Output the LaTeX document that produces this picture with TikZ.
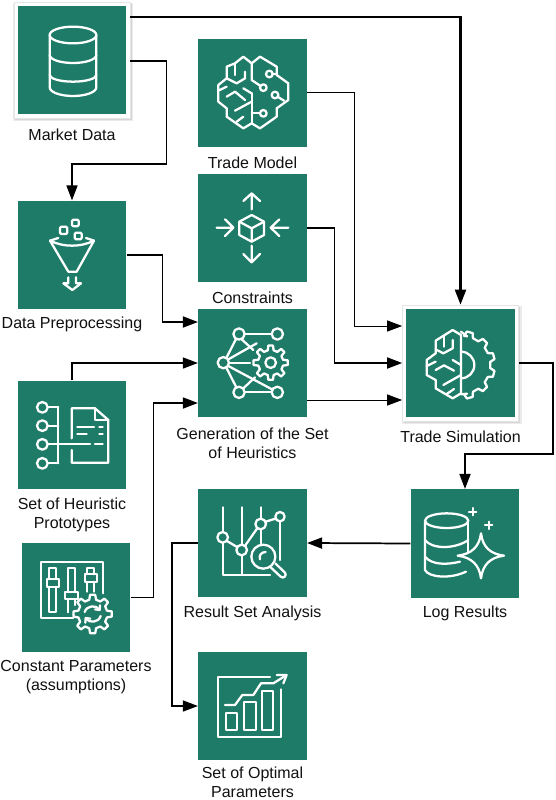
\documentclass[tikz,border=0pt]{standalone}
\usepackage{fontspec}
\setmainfont{Liberation Sans}
\usetikzlibrary{arrows.meta,calc}
\definecolor{tealbg}{HTML}{1E7B67}
\definecolor{labelink}{HTML}{111111}
\newcommand{\gearpath}[6]{% cx cy rout rin step list
  \begin{scope}[shift={(#1,#2)}]
  \draw[icon,fill=tealbg] ({-.3*#5}:#4) \foreach \i in {#6} { -- ({\i*#5-.3*#5}:#4) -- ({\i*#5-.17*#5}:#3) -- ({\i*#5+.17*#5}:#3) -- ({\i*#5+.3*#5}:#4) } -- cycle;
  \end{scope}}
\tikzset{
  tealbox/.style={rectangle,fill=tealbg,draw=none,inner sep=0pt,minimum size=81.5pt},
  framebox/.style={rectangle,fill=white,draw=black!10,line width=.5pt,inner sep=0pt,minimum size=87pt},
  lbl/.style={text=labelink,font=\fontsize{12pt}{14.25pt}\selectfont,align=center,inner sep=0pt},
  icon/.style={draw=white,line width=1.7pt,line join=round,line cap=round},
  zoomed/.style={x=.25pt,y=-.25pt},
  conn/.style={draw=black,-{Triangle[length=11.25pt,width=8.25pt]},line width=#1},
  conn/.default=1.3pt
}
\begin{document}
\begin{tikzpicture}[x=.75pt,y=-.75pt]
\useasboundingbox (0,0) rectangle (556,800);
\fill[white] (0,0) rectangle (556,800);

% framed shadows
\fill[black!8] (13,3) rectangle (133,121);
\fill[black!16] (15,4) rectangle (131.5,119.5);
\fill[black!8] (401.5,306) rectangle (521.5,424);
\fill[black!16] (404,307) rectangle (520,422.5);

% boxes
\node[framebox] (md) at (72,60) {};
\node[tealbox] (mdin) at (md) {};
\node[tealbox] (tm) at (252.5,93) {};
\node[tealbox] (cs) at (252.5,228) {};
\node[tealbox] (dp) at (72,255) {};
\node[tealbox] (gn) at (252.5,363) {};
\node[tealbox] (hp) at (72,435) {};
\node[tealbox] (cp) at (76,597.5) {};
\node[tealbox] (rs) at (252.5,543) {};
\node[tealbox] (op) at (252.5,706) {};
\node[framebox] (sim) at (460.5,363) {};
\node[tealbox] (simin) at (sim) {};
\node[tealbox] (lg) at (465,543.5) {};

% labels
\node[lbl] (lmd) at (72,134.7) {Market Data};
\node[lbl] (ltm) at (252.5,162.7) {Trade Model};
\node[lbl] (lcs) at (252.5,297.7) {Constraints};
\node[lbl] (ldp) at (72,324.7) {Data Preprocessing};
\node[lbl] (lgn) at (252.5,443.2) {Generation of the Set\\of Heuristics};
\node[lbl] (lhp) at (72,515.2) {Set of Heuristic\\Prototypes};
\node[lbl] (lcp) at (76,677.2) {Constant Parameters\\(assumptions)};
\node[lbl] (lrs) at (252.5,613.7) {Result Set Analysis};
\node[lbl] (lop) at (252.5,782.5) {Set of Optimal\\Parameters};
\node[lbl] (lsim) at (460.5,436.7) {Trade Simulation};
\node[lbl] (llg) at (465,613.7) {Log Results};

% connectors
\draw[conn=1.6pt] ([yshift=32.25pt]md.east) -| (sim.north);
\draw[conn=1.2pt] ([yshift=-.75pt]md.east) -- ++(36,0) -- ++(0,103) -| (dp.north);
\draw[conn=.75pt] ([yshift=.75pt]tm.east) -- ++(47.5,0) |- ([yshift=27.75pt]sim.west);
\draw[conn=1.3pt] (cs.east) -- ++(27.5,0) |- (sim.west);
\draw[conn=.75pt] ([yshift=-27.75pt]gn.east) -- ([yshift=-27.75pt]sim.west);
\draw[conn=1.3pt] (dp.east) -- ++(36,0) |- ([yshift=30.75pt]gn.west);
\draw[conn=1.1pt] (hp.north) |- (gn.west);
\draw[conn=1.2pt] (cp.east) -- ++(23,0) |- ([yshift=-30pt]gn.west);
\draw[conn=1.1pt] (rs.west) -- ++(-26,0) |- (op.west);
\draw[conn=1.3pt] (lg.west) -- (rs.east);
\draw[conn=1.3pt] (sim.east) -- ++(34.5,0) -- ++(0,91) -| (lg.north);

% ---------- icons, coordinates are those of the 3x crops
\begin{scope}[zoomed]
% market data
\draw[icon] (219,105) ellipse [x radius=70,y radius=25];
\draw[icon] (149,105) -- (149,262) arc[start angle=180,end angle=0,x radius=70,y radius=26] -- (289,105);
\draw[icon] (149,165) arc[start angle=180,end angle=0,x radius=70,y radius=24];
\draw[icon] (149,225) arc[start angle=180,end angle=0,x radius=70,y radius=20];
% trade model brain
\draw[icon] (755,190) -- (730,170) -- (705,190) -- (680,200) -- (680,235) -- (655,255) -- (655,305) -- (680,325) -- (680,350) -- (730,385) -- (755,370) -- (780,385) -- (830,350) -- (830,325) -- (865,300) -- (865,250) -- (830,225) -- (830,200) -- (780,170) -- cycle;
\draw[icon] (755,190) -- (755,240) -- (782,258);
\draw[icon] (790,263) circle[radius=10];
\draw[icon] (755,280) -- (755,370);
\draw[icon] (755,340) -- (780,340);
\draw[icon] (790,340) circle[radius=10];
\draw[icon] (808,222) circle[radius=10] (818,222) -- (830,222);
\draw[icon] (825,285) circle[radius=10] (834,291) -- (852,302);
\draw[icon] (705,190) -- (705,225);
\draw[icon] (735,215) -- (735,235) -- (710,250) -- (680,235);
\draw[icon] (655,272) -- (680,260);
\draw[icon] (680,290) -- (705,275) -- (735,300);
\draw[icon] (730,265) -- (755,280);
\draw[icon] (705,332) -- (755,305);
\draw[icon] (710,365) -- (730,350);
% constraints
\draw[icon] (755,645) -- (792,665) -- (792,705) -- (755,725) -- (718,705) -- (718,665) -- cycle;
\draw[icon] (718,665) -- (755,685) -- (792,665) (755,685) -- (755,725);
\draw[icon] (755,628) -- (755,580) (730,603) -- (755,580) -- (780,603);
\draw[icon] (755,737) -- (755,787) (730,762) -- (755,787) -- (780,762);
\draw[icon] (650,683) -- (700,683) (675,658) -- (700,683) -- (675,708);
\draw[icon] (865,683) -- (812,683) (838,658) -- (812,683) -- (838,708);
% funnel
\draw[icon] (150,722) .. controls (190,742) and (242,742) .. (282,722) -- (230,815) -- (205,815) -- cycle;
\draw[icon] (150,722) -- (175,714) (282,722) -- (258,714);
\draw[icon,rounded corners=1pt] (180,680) rectangle (202,702);
\draw[icon,rounded corners=1pt] (216,659) rectangle (236,679);
\draw[icon,rounded corners=1pt] (224,698) rectangle (245,718);
\draw[icon] (205,832) -- (205,850) -- (190,850) -- (217,870) -- (243,850) -- (228,850) -- (228,832);
\end{scope}

\begin{scope}[zoomed,shift={(0pt,-225pt)}]
% generation
\foreach \a/\b/\c/\d in {735/102/815/102, 708/117/680/172, 680/205/708/260, 735/277/815/277, 685/178/770/130, 725/118/760/150, 688/188/750/188, 730/265/765/232, 685/198/816/268}
  \draw[icon] (\a,\b) -- (\c,\d);
\foreach \a/\b in {717/102,832/102,670/188,717/277,832/277}
  \draw[icon] (\a,\b) circle[radius=17];
\gearpath{812}{188}{52}{38}{45}{0,1,2,3,4,5,6,7}
\draw[icon] (812,188) circle[radius=16];
% heuristic prototypes
\foreach \b in {322,377,433,490} {
  \draw[icon] (127,\b) circle[radius=16];
  \draw[icon] (143,\b) -- (175,\b);
}
\draw[icon] (175,322) -- (175,490);
\draw[icon] (175,433) -- (270,433);
\draw[icon] (215,415) -- (215,325) -- (285,325) -- (325,360) -- (325,488) -- (215,488) -- (215,450);
\draw[icon] (285,325) -- (285,360) -- (325,360);
\draw[icon] (232,380) -- (282,380) (298,380) -- (308,380);
\draw[icon] (232,403) -- (260,403) (298,403) -- (308,403);
\draw[icon] (285,433) -- (308,433);
% result analysis
\draw[icon] (670,622) -- (670,695) (670,728) -- (670,825) -- (810,825);
\draw[icon] (727,622) -- (727,733) (727,767) -- (727,825);
\draw[icon] (782,622) -- (782,655) (782,690) -- (782,730);
\draw[icon] (840,665) -- (840,780);
\draw[icon] (681,723) -- (711,741) (736,736) -- (771,686) (797,665) -- (826,656);
\foreach \a/\b/\r in {668/712/16,725/750/16,782/672/16,840/650/14}
  \draw[icon] (\a,\b) circle[radius=\r];
\draw[icon,fill=tealbg] (790,770) circle[radius=36];
\draw[icon] (780,778) .. controls (776,766) and (784,756) .. (797,756);
\draw[icon] (826,790) -- (855,818) .. controls (862,826) and (850,838) .. (842,830) -- (812,802);
\end{scope}

\begin{scope}[zoomed,shift={(0pt,-397.5pt)}]
% constant parameters
\draw[icon] (310,190) -- (310,97) -- (122,97) -- (122,265) -- (220,265);
\draw[icon] (148,148) -- (148,113) -- (168,113) -- (168,148);
\draw[icon] (148,170) -- (148,247) -- (168,247) -- (168,170);
\draw[icon] (140,148) rectangle (176,170);
\draw[icon] (205,187) -- (205,113) -- (225,113) -- (225,187);
\draw[icon] (205,207) -- (205,247) (225,207) -- (225,225);
\draw[icon] (195,187) rectangle (235,207);
\draw[icon] (262,133) -- (262,113) -- (282,113) -- (282,133);
\draw[icon] (262,155) -- (262,185) (282,155) -- (282,185);
\draw[icon] (255,133) rectangle (290,155);
\gearpath{278}{252}{58}{44}{45}{0,1,2,3,4,5,6,7}
\draw[icon] (254,246) .. controls (260,226) and (288,224) .. (298,238);
\draw[icon] (302,258) .. controls (296,278) and (268,280) .. (258,266);
\draw[icon] (300,226) -- (299,240) -- (285,238);
\draw[icon] (256,278) -- (257,264) -- (271,266);
% optimal parameters
\draw[icon] (810,442) -- (655,442) -- (655,620) -- (843,620) -- (843,478);
\draw[icon] (677,548) rectangle (712,600);
\draw[icon] (733,515) rectangle (767,600);
\draw[icon] (787,483) rectangle (820,600);
\draw[icon] (675,525) -- (705,525) -- (727,495) -- (760,495) -- (783,460) -- (820,460) -- (855,438);
\draw[icon] (830,435) -- (860,435) -- (850,460);
\end{scope}

\begin{scope}[zoomed,shift={(225pt,-217.5pt)}]
% trade simulation
\draw[icon] (483,135) -- (458,120) -- (407,152) -- (407,190) -- (380,210) -- (380,255) -- (407,270) -- (407,295) -- (458,325) -- (483,310) -- cycle;
\draw[icon] (433,138) -- (433,170);
\draw[icon] (458,150) -- (458,175) -- (430,190) -- (407,178);
\draw[icon] (380,228) -- (407,215);
\draw[icon] (407,240) -- (432,226) -- (462,242);
\draw[icon] (458,210) -- (483,225);
\draw[icon] (430,285) -- (483,255);
\draw[icon] (440,312) -- (462,297);
\begin{scope}[shift={(483,225)}]
\draw[icon] (-78:88) \foreach \i in {-2.5,-1.5,-.5,.5,1.5,2.5} { -- ({\i*30-9}:88) -- ({\i*30-5}:102) -- ({\i*30+5}:102) -- ({\i*30+9}:88) } -- (78:88) -- (0,88);
\draw[icon] (0,-40) arc[start angle=-90,end angle=90,radius=40];
\draw[icon] (0,-100) -- (-78:88);
\end{scope}
% log results
\draw[icon] (440,692) ellipse [x radius=65,y radius=22];
\draw[icon] (375,692) -- (375,840) .. controls (385,862) and (450,868) .. (498,845);
\draw[icon] (505,692) -- (505,788);
\draw[icon] (375,750) .. controls (395,778) and (465,778) .. (505,750);
\draw[icon] (375,800) .. controls (395,825) and (440,825) .. (480,815);
\draw[icon,fill=tealbg] (543,730) .. controls (548,770) and (570,792) .. (612,797) .. controls (570,802) and (548,825) .. (543,865) .. controls (538,825) and (515,802) .. (473,797) .. controls (515,792) and (538,770) .. (543,730) -- cycle;
\draw[icon] (518,654) -- (518,676) (507,665) -- (529,665);
\draw[icon] (566,695) -- (566,717) (555,706) -- (577,706);
\end{scope}
\end{tikzpicture}
\end{document}
